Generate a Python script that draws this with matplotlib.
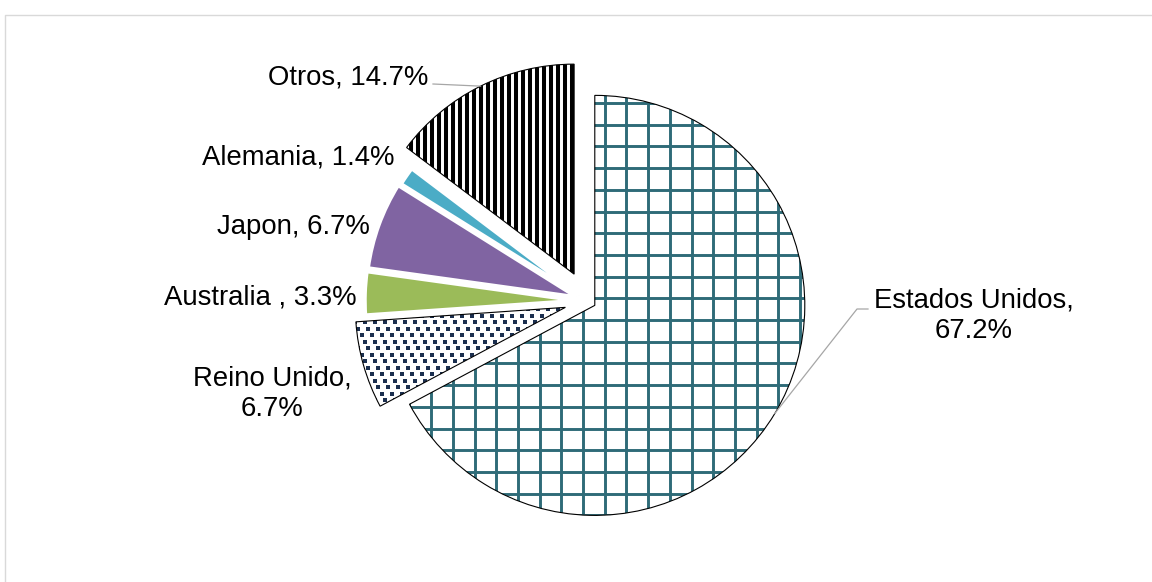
import numpy as np
import matplotlib
matplotlib.use("Agg")
import matplotlib.pyplot as plt
import matplotlib.patches as mpatches

plt.rcParams['font.family'] = ['Liberation Sans', 'DejaVu Sans']

# datos del gráfico
paises = ['Estados Unidos', 'Reino Unido', 'Australia ', 'Japon', 'Alemania', 'Otros']
porcentajes = [67.2, 6.7, 3.3, 6.7, 1.4, 14.7]
etiquetas = ['Estados Unidos,\n67.2%', 'Reino Unido,\n6.7%', 'Australia , 3.3%',
             'Japon, 6.7%', 'Alemania, 1.4%', 'Otros, 14.7%']

# estilo (coordenadas en píxeles de la figura)
W, H = 1152, 582
centro = (587.5, 281)
radio = 210
separacion = [8.5, 23, 12.5, 12, 10, 30]
colores = ['white', 'white', '#9BBB59', '#8064A2', '#4BACC6', 'white']
pos_etiquetas = [(974, 266, 'center'), (272, 188, 'center'), (357, 285, 'right'),
                 (370, 355, 'right'), (395, 424, 'right'), (428, 505, 'right')]

fig = plt.figure(figsize=(W / 100, H / 100), dpi=100)
ax = fig.add_axes([0, 0, 1, 1])

wedges, _ = ax.pie(porcentajes, startangle=90, counterclock=False, radius=radio,
                   center=centro, explode=separacion, colors=colores,
                   wedgeprops=dict(edgecolor='white', linewidth=2.5))
ax.set_xlim(0, W)
ax.set_ylim(0, H)
ax.set_aspect('equal')
ax.axis('off')


def contorno(w):
    ax.add_patch(mpatches.Wedge(w.center, w.r, w.theta1, w.theta2, fill=False,
                                edgecolor='black', linewidth=0.8, zorder=5))


# Estados Unidos: cuadrícula verde azulado
us = wedges[0]
us.set_edgecolor('none')
cx, cy = us.center
paso = 21.7
xs = np.arange(cx + 10 - paso * 12, cx + radio + 5, paso)
ys = np.arange(cy - radio - paso, cy + radio + paso, paso)
vl = ax.vlines(xs, cy - radio - 5, cy + radio + 5, color='#2F6B78', linewidth=2.1, zorder=3)
hl = ax.hlines(ys, cx - radio - 5, cx + radio + 5, color='#2F6B78', linewidth=2.1, zorder=3)
vl.set_clip_path(us)
hl.set_clip_path(us)
contorno(us)

# Reino Unido: puntos cuadrados escalonados
ru = wedges[1]
ru.set_edgecolor('none')
cx, cy = ru.center
px, py = [], []
for i, yy in enumerate(np.arange(cy - radio, cy + radio, 6.5)):
    for xx in np.arange(cx - radio - 3.5 * (i % 3), cx, 10):
        px.append(xx)
        py.append(yy)
sc = ax.scatter(px, py, marker='s', s=12, color='#1B2F4F', linewidths=0, zorder=3)
sc.set_clip_path(ru)
contorno(ru)

# Otros: rayas verticales negras
ot = wedges[5]
ot.set_edgecolor('none')
cx, cy = ot.center
xs = np.arange(cx - 2, cx - radio - 10, -7)
st = ax.vlines(xs, cy - 5, cy + radio + 5, color='black', linewidth=2.9, zorder=3)
st.set_clip_path(ot)
contorno(ot)

# etiquetas
for txt, (x, y, ha) in zip(etiquetas, pos_etiquetas):
    ax.text(x, y, txt, fontsize=19.8, ha=ha, va='center', multialignment='center',
            color='black', zorder=6, linespacing=1.25)

# líneas guía para Otros y Estados Unidos
gris = '#A6A6A6'
w = wedges[5]
a = np.deg2rad((w.theta1 + w.theta2) / 2)
ax.plot([433, w.center[0] + radio * np.cos(a)], [498, w.center[1] + radio * np.sin(a)],
        color=gris, linewidth=0.9, zorder=6)
w = wedges[0]
a = np.deg2rad((w.theta1 + w.theta2) / 2)
ax.plot([w.center[0] + radio * np.cos(a), 857, 868],
        [w.center[1] + radio * np.sin(a), 273, 273],
        color=gris, linewidth=0.9, zorder=6)

# marco del área del gráfico
ax.plot([4.5, 4.5, W], [0, 567.5, 567.5], color='#D9D9D9', linewidth=1.0, zorder=1)

fig.savefig('out.png', dpi=100)
